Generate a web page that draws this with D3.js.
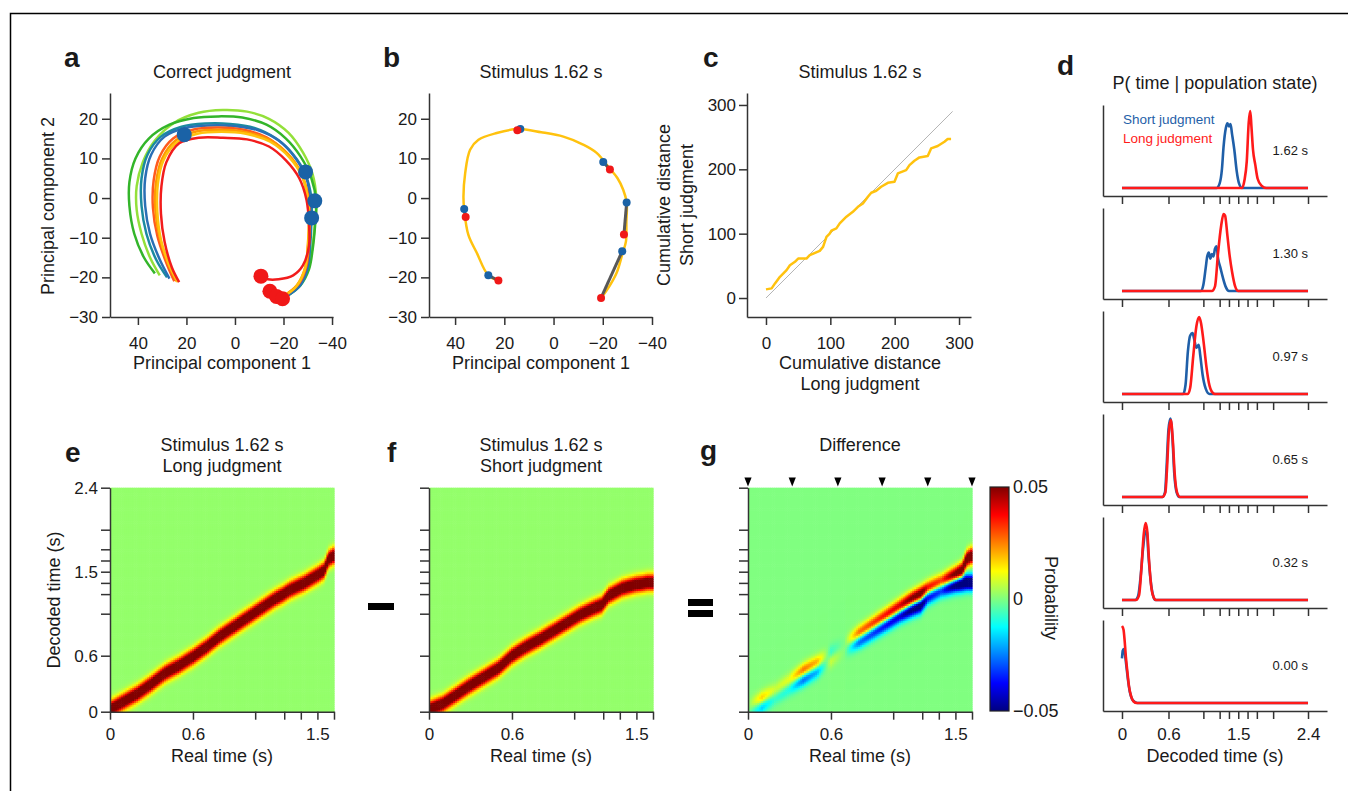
<!DOCTYPE html>
<html>
<head>
<meta charset="utf-8">
<script src="https://cdn.jsdelivr.net/npm/d3@7"></script>
<style>
  body { margin: 0; background: #fff; }
  text { font-family: "Liberation Sans", Arial, Helvetica, sans-serif; fill: #1a1a1a; }
</style>
</head>
<body>
<svg id="fig" width="1348" height="791"></svg>
<script>
// ---------- data ----------

// panel a: population trajectories (PC1, PC2), outermost to innermost
var aLightGreen = [[31,-19.5],[35,-15],[38.5,-9],[40.5,-3],[40.5,3],[38,9],[33,14.5],[25,19],[15,21.5],[5,22.2],[-5,21.8],[-14,20],[-22,16.5],[-28,11.5],[-32,6],[-33.5,0],[-33,-6],[-32,-12],[-30.5,-17],[-27,-21.5],[-21,-24.5]];
var aGreen = [[33,-19],[37.5,-15],[41.5,-9],[43.5,-2],[43.5,4],[41,10],[35.5,15],[27,18.5],[17,20.2],[7,20.6],[-3,20.3],[-13,18.5],[-21,15],[-27,10.5],[-31.5,5],[-33.5,-1],[-33,-7],[-32,-13],[-30.5,-18],[-27,-22],[-22,-24.5]];
var aTeal = [[28,-20],[32.5,-15.5],[36.5,-9],[38.5,-2],[38.5,5],[36,11],[30.5,15.5],[22,18],[12,18.8],[2,18.7],[-8,17.7],[-17,15],[-24,11],[-29,6],[-31.5,0],[-31.5,-6],[-31,-12],[-30,-17.5],[-27,-22],[-22,-24.5]];
var aBlue = [[27,-20.3],[31,-15.5],[35,-9],[37,-2],[37,5],[34.5,11],[29,15.5],[21,17.6],[11,18.3],[1,18.2],[-9,17.2],[-18,14.5],[-25,10],[-29.5,5],[-31,-1],[-31,-7],[-30.5,-13],[-29.5,-18.5],[-26,-22.5],[-21,-24.8]];
var aOrangeRed = [[25,-21],[28.5,-16],[32,-9.5],[33.8,-2.5],[33.5,4.5],[31,10.5],[25.5,15],[17,17.3],[7,17.8],[-3,17.3],[-13,15.3],[-21,11.5],[-27,6.5],[-30,1],[-30.8,-5],[-30.5,-11],[-29.5,-17],[-26.5,-21.5],[-22,-24]];
var aOrange = [[24,-21],[27.5,-16.5],[31,-10],[32.8,-3],[32.5,4],[30,10],[24.5,14.5],[16,16.8],[6,17.2],[-4,16.7],[-14,14.8],[-22,11],[-27.5,6],[-30,0],[-30.5,-6],[-30,-12],[-29,-17.5],[-25.5,-22],[-20.5,-24.5]];
var aGold = [[23.5,-21.2],[27,-17],[30.5,-10.5],[32,-3.5],[31.8,3.5],[29.5,9.5],[24,14],[15.5,16.2],[5.5,16.7],[-4.5,16.2],[-14.5,14.2],[-22.5,10.2],[-28,5],[-30.2,-1],[-30.5,-7],[-30,-13],[-28.5,-18.5],[-25,-22.5],[-19.5,-25]];
var aRed = [[23,-21.2],[26,-17.5],[29,-11],[30.5,-4],[30.3,3],[28.3,9],[23,13.8],[15,15.2],[5,15.2],[-5,14.8],[-14,13],[-21,9.5],[-26.5,5],[-29.5,-0.5],[-30.5,-6.5],[-30.5,-12],[-28,-17],[-24,-19.5],[-18,-20.5],[-13.5,-20.5],[-10.7,-19.7]];
var aBlueDots = [[20.9,16.0],[-29.1,6.6],[-32.9,-0.7],[-31.6,-5.0]];
var aRedDots = [[-10.7,-19.7],[-14.4,-23.5],[-17.1,-24.8],[-19.6,-25.4]];

// panel b: one trajectory, stimulus 1.62 s
var bPath = [[22.4,-20.8],[26.5,-19.5],[31.2,-13.8],[34.6,-9.3],[36.3,-3],[36.6,0.4],[35.9,6.3],[33.9,12.2],[30.5,14.7],[23.1,16.4],[14.7,17.4],[5,16.6],[-4,15.5],[-12,13.5],[-17.5,11.4],[-22.9,7.4],[-26,5],[-28.3,2.1],[-29.7,-1.1],[-29.6,-6],[-29.4,-11],[-28,-14],[-25.6,-18.9],[-21.6,-23.3],[-19.3,-25.2]];
var bBlueDots = [[13.5,17.4],[-20.2,9.1],[-29.7,-1.1],[-27.9,-13.4],[36.3,-2.75],[26.5,-19.5]];
var bRedDots = [[14.7,17.1],[-22.9,7.2],[-28.6,-9.2],[-19.3,-25.2],[35.7,-4.8],[22.4,-20.8]];

// panel c: cumulative distance, long vs short judgment
var cLong = [0,8.8,14,21.7,32,37.2,45,50,62.9,68,83.5,88.7,94,99,101.7,109.4,114.6,125,135,142.9,150.6,158.4,163.6,171.3,179,189.4,199.7,204.9,217.8,223,230.7,238.5,251.4,256.6,266.9,277.3,282.4,287.6];
var cShort = [13.4,15,22.7,33,43.4,51,56.3,61.4,61.4,66.6,73.3,79.5,95,100,104.6,108.2,116,126.4,134,141.8,147,157.4,163.6,166.7,172.9,179,180.6,193.6,198.8,206.6,213.3,218.5,220.6,232.5,236.2,242.9,247,247];
var cDiag = [0, 290];

// panel d: P(time | population state), relative probability vs decoded time (s)
var dLabels = ['1.62 s','1.30 s','0.97 s','0.65 s','0.32 s','0.00 s'];
var d162Short = [[0,0],[1.22,0],[1.26,0.06],[1.29,0.25],[1.31,0.53],[1.34,0.78],[1.36,0.84],[1.38,0.8],[1.4,0.83],[1.42,0.7],[1.45,0.49],[1.48,0.22],[1.51,0.06],[1.55,0],[2.4,0]];
var d162Long = [[0,0],[1.55,0],[1.58,0.1],[1.61,0.35],[1.635,0.85],[1.655,1.0],[1.67,0.8],[1.69,0.5],[1.72,0.3],[1.75,0.12],[1.8,0.03],[1.86,0],[2.4,0]];
var d130Short = [[0,0],[1.02,0],[1.05,0.08],[1.08,0.3],[1.1,0.45],[1.12,0.5],[1.14,0.42],[1.16,0.48],[1.18,0.45],[1.2,0.55],[1.22,0.58],[1.24,0.42],[1.27,0.3],[1.3,0.18],[1.34,0.05],[1.38,0],[2.4,0]];
var d130Long = [[0,0],[1.16,0],[1.2,0.06],[1.24,0.5],[1.28,0.85],[1.31,1.0],[1.33,0.98],[1.36,0.72],[1.39,0.45],[1.42,0.25],[1.46,0.06],[1.5,0],[2.4,0]];
var d097Short = [[0,0],[0.79,0],[0.82,0.12],[0.85,0.55],[0.88,0.76],[0.91,0.79],[0.93,0.72],[0.96,0.6],[0.99,0.64],[1.01,0.5],[1.04,0.25],[1.08,0.07],[1.13,0],[2.4,0]];
var d097Long = [[0,0],[0.85,0],[0.88,0.08],[0.92,0.5],[0.96,0.88],[0.995,1.0],[1.02,0.92],[1.05,0.7],[1.09,0.35],[1.12,0.15],[1.16,0.03],[1.2,0],[2.4,0]];
var d065Short = [[0,0],[0.52,0],[0.555,0.06],[0.575,0.38],[0.6,0.88],[0.625,1.02],[0.65,0.78],[0.675,0.3],[0.705,0.06],[0.74,0],[2.4,0]];
var d065Long = [[0,0],[0.52,0],[0.56,0.06],[0.58,0.35],[0.605,0.85],[0.63,1.0],[0.655,0.75],[0.68,0.3],[0.71,0.06],[0.75,0],[2.4,0]];
var d032Short = [[0,0],[0.17,0],[0.21,0.06],[0.24,0.3],[0.27,0.65],[0.3,0.88],[0.32,0.9],[0.34,0.6],[0.37,0.25],[0.4,0.06],[0.43,0],[2.4,0]];
var d032Long = [[0,0],[0.18,0],[0.22,0.06],[0.25,0.4],[0.28,0.85],[0.305,1.0],[0.325,0.9],[0.35,0.5],[0.38,0.15],[0.41,0.03],[0.44,0],[2.4,0]];
var d000Short = [[0,0.58],[0.01,0.68],[0.025,0.7],[0.04,0.62],[0.06,0.45],[0.08,0.28],[0.1,0.15],[0.13,0.05],[0.17,0.01],[0.2,0],[2.4,0]];
var d000Long = [[0,1.0],[0.02,0.95],[0.035,0.8],[0.05,0.6],[0.07,0.4],[0.09,0.22],[0.12,0.08],[0.15,0.02],[0.19,0],[2.4,0]];

// ticks shared by d-g (stimulus set + boundary)
var timeTicks = [0, 0.6, 1.05, 1.26, 1.38, 1.5, 1.62, 1.74, 1.95, 2.4];
var realTicks = [0, 0.6, 1.05, 1.26, 1.38, 1.5, 1.62];
var timeTickLabels = [0, 0.6, 1.5, 2.4];
var markerTimes = [0, 0.32, 0.65, 0.97, 1.30, 1.62];

// panels e-g: decoded-time ridge (centre of posterior) per real time
var hmReal = [0,0.1,0.2,0.3,0.4,0.5,0.6,0.7,0.8,0.9,1.0,1.1,1.2,1.25,1.3,1.4,1.5,1.55,1.58,1.62];
var ridgeLong = [0.03,0.115,0.2,0.305,0.42,0.5,0.595,0.7,0.82,0.92,1.02,1.12,1.22,1.26,1.31,1.38,1.47,1.52,1.64,1.68];
var ridgeShort = [0.03,0.09,0.19,0.29,0.38,0.47,0.605,0.7,0.78,0.87,0.96,1.05,1.12,1.15,1.25,1.33,1.37,1.38,1.39,1.39];
var bandPeak = 0.065, bandSigma = 0.058, floorProb = 0.002;
var cbTicks = [-0.05, 0, 0.05];

// ---------- drawing ----------
var FONT = '"Liberation Sans", Arial, Helvetica, sans-serif';
var svg = d3.select('#fig');

// page frame
svg.append('path').attr('d', 'M10.5,791V13.5H1348')
  .attr('fill', 'none').attr('stroke', '#000').attr('stroke-width', 1.5);

function label(x, y, s, fs, anchor, extra) {
  var t = svg.append('text').attr('x', x).attr('y', y).text(s)
    .attr('font-size', fs).attr('text-anchor', anchor || 'middle');
  if (extra) extra(t);
  return t;
}
function rotLabel(x, y, s, fs, angle) {
  return svg.append('text').attr('transform', 'translate(' + x + ',' + y + ') rotate(' + angle + ')')
    .attr('text-anchor', 'middle').attr('font-size', fs).text(s);
}
function letter(x, y, s) {
  return label(x, y, s, 28, 'start', function(t){ t.attr('font-weight', 'bold'); });
}
function styleAxis(g, fs) {
  g.attr('font-family', FONT).attr('font-size', fs);
  g.selectAll('text').attr('fill', '#1a1a1a');
  g.select('.domain').attr('stroke', '#333').attr('stroke-width', 1.5);
  g.selectAll('.tick line').attr('stroke', '#333').attr('stroke-width', 1.5);
  return g;
}
var fmtTime = function(d){ return timeTickLabels.indexOf(d) >= 0 ? String(d) : ''; };

// ===== panel a =====
var ax = d3.scaleLinear().domain([51.5, -40.4]).range([110, 333]);
var ay = d3.scaleLinear().domain([-30, 26.5]).range([317, 93]);
styleAxis(svg.append('g').attr('transform', 'translate(0,317)')
  .call(d3.axisBottom(ax).tickValues([40,20,0,-20,-40]).tickSize(8).tickSizeOuter(0).tickPadding(12)), 17);
styleAxis(svg.append('g').attr('transform', 'translate(110,0)')
  .call(d3.axisLeft(ay).tickValues([20,10,0,-10,-20,-30]).tickSize(8).tickSizeOuter(0).tickPadding(4)), 17);

var aTraj = [
  {pts: aLightGreen, color: '#93e03a'},
  {pts: aGreen, color: '#33b52a'},
  {pts: aTeal, color: '#1b8aa0'},
  {pts: aBlue, color: '#2a6fb5'},
  {pts: aOrangeRed, color: '#ff5a1e'},
  {pts: aOrange, color: '#ff9800'},
  {pts: aGold, color: '#ffc20e'},
  {pts: aRed, color: '#f21c1c'}
];
var aLine = d3.line().x(function(d){return ax(d[0]);}).y(function(d){return ay(d[1]);}).curve(d3.curveCatmullRom.alpha(0.5));
svg.append('g').selectAll('path').data(aTraj).join('path')
  .attr('d', function(d){return aLine(d.pts);})
  .attr('fill', 'none').attr('stroke', function(d){return d.color;}).attr('stroke-width', 2.5);
svg.append('g').selectAll('circle').data(aBlueDots).join('circle')
  .attr('cx', function(d){return ax(d[0]);}).attr('cy', function(d){return ay(d[1]);})
  .attr('r', 7.5).attr('fill', '#1a62a6');
svg.append('g').selectAll('circle').data(aRedDots).join('circle')
  .attr('cx', function(d){return ax(d[0]);}).attr('cy', function(d){return ay(d[1]);})
  .attr('r', 7.5).attr('fill', '#f01818');

letter(64, 67, 'a');
label(222, 78, 'Correct judgment', 18);
label(222, 369, 'Principal component 1', 18);
rotLabel(54, 206, 'Principal component 2', 18, -90);

// ===== panel b =====
var bx = d3.scaleLinear().domain([50.6, -40]).range([429, 652]);
var by = ay;
styleAxis(svg.append('g').attr('transform', 'translate(0,317)')
  .call(d3.axisBottom(bx).tickValues([40,20,0,-20,-40]).tickSize(8).tickSizeOuter(0).tickPadding(12)), 17);
styleAxis(svg.append('g').attr('transform', 'translate(429,0)')
  .call(d3.axisLeft(by).tickValues([20,10,0,-10,-20,-30]).tickSize(8).tickSizeOuter(0).tickPadding(4)), 17);
var bLine = d3.line().x(function(d){return bx(d[0]);}).y(function(d){return by(d[1]);}).curve(d3.curveCatmullRom.alpha(0.5));
svg.append('path').attr('d', bLine(bPath)).attr('fill', 'none').attr('stroke', '#ffc20e').attr('stroke-width', 2.5);
svg.append('g').selectAll('line').data(d3.zip(bBlueDots, bRedDots)).join('line')
  .attr('x1', function(d){return bx(d[0][0]);}).attr('y1', function(d){return by(d[0][1]);})
  .attr('x2', function(d){return bx(d[1][0]);}).attr('y2', function(d){return by(d[1][1]);})
  .attr('stroke', '#585858').attr('stroke-width', 3);
svg.append('g').selectAll('circle').data(bBlueDots).join('circle')
  .attr('cx', function(d){return bx(d[0]);}).attr('cy', function(d){return by(d[1]);})
  .attr('r', 4).attr('fill', '#1a62a6');
svg.append('g').selectAll('circle').data(bRedDots).join('circle')
  .attr('cx', function(d){return bx(d[0]);}).attr('cy', function(d){return by(d[1]);})
  .attr('r', 4).attr('fill', '#f01818');

letter(383, 67, 'b');
label(541, 78, 'Stimulus 1.62 s', 18);
label(541, 369, 'Principal component 1', 18);

// ===== panel c =====
var cx = d3.scaleLinear().domain([-29.5, 318.6]).range([747, 971]);
var cy = d3.scaleLinear().domain([-29.5, 318.6]).range([317, 93]);
styleAxis(svg.append('g').attr('transform', 'translate(0,317)')
  .call(d3.axisBottom(cx).tickValues([0,100,200,300]).tickSize(8).tickSizeOuter(0).tickPadding(12)), 17);
styleAxis(svg.append('g').attr('transform', 'translate(747,0)')
  .call(d3.axisLeft(cy).tickValues([0,100,200,300]).tickSize(8).tickSizeOuter(0).tickPadding(3)), 17);
svg.append('line').attr('x1', cx(cDiag[0])).attr('y1', cy(cDiag[0]))
  .attr('x2', cx(cDiag[1])).attr('y2', cy(cDiag[1]))
  .attr('stroke', '#b5b5b5').attr('stroke-width', 1);
var cLine = d3.line().x(function(d){return cx(d[0]);}).y(function(d){return cy(d[1]);});
svg.append('path').attr('d', cLine(d3.zip(cLong, cShort)))
  .attr('fill', 'none').attr('stroke', '#ffc20e').attr('stroke-width', 2.5).attr('stroke-linejoin', 'round');

letter(703, 67, 'c');
label(860, 78, 'Stimulus 1.62 s', 18);
label(860, 369, 'Cumulative distance', 18);
label(860, 390, 'Long judgment', 18);
rotLabel(670, 205, 'Cumulative distance', 18, -90);
rotLabel(693, 205, 'Short judgment', 18, -90);

// ===== panel d =====
var dPanels = [
  {short: d162Short, long: d162Long},
  {short: d130Short, long: d130Long},
  {short: d097Short, long: d097Long},
  {short: d065Short, long: d065Long},
  {short: d032Short, long: d032Long},
  {short: d000Short, long: d000Long}
];
var dx = d3.scaleLinear().domain([-0.245, 2.645]).range([1103, 1327]);
dPanels.forEach(function(p, i) {
  var top = 105 + i * 103, bottom = top + 91;
  var dy = d3.scaleLinear().domain([-0.104, 1.078]).range([bottom, top]);
  styleAxis(svg.append('g').attr('transform', 'translate(1103,0)')
    .call(d3.axisLeft(dy).tickValues([]).tickSizeOuter(0)), 17);
  styleAxis(svg.append('g').attr('transform', 'translate(0,' + bottom + ')')
    .call(d3.axisBottom(dx).tickValues(timeTicks).tickSize(8).tickSizeOuter(0).tickPadding(9)
      .tickFormat(i === 5 ? fmtTime : function(){ return ''; })), 17);
  var ln = d3.line().x(function(d){return dx(d[0]);}).y(function(d){return dy(d[1]);}).curve(d3.curveMonotoneX);
  svg.append('path').attr('d', ln(p.short)).attr('fill', 'none').attr('stroke', '#1f5fa8').attr('stroke-width', 2.6);
  svg.append('path').attr('d', ln(p.long)).attr('fill', 'none').attr('stroke', '#ff1a1a').attr('stroke-width', 2.6);
  label(1308, top + 50, dLabels[i], 13, 'end');
});
label(1123, 124, 'Short judgment', 13.5, 'start', function(t){ t.style('fill', '#1f5fa8'); });
label(1123, 143, 'Long judgment', 13.5, 'start', function(t){ t.style('fill', '#ff1a1a'); });
letter(1057, 75, 'd');
label(1215, 89, 'P( time | population state)', 18);
label(1215, 762, 'Decoded time (s)', 18);

// ===== panels e, f, g (heatmaps) =====
var jet = d3.scaleLinear()
  .domain([-0.05, -0.0375, -0.0125, 0.0125, 0.0375, 0.05])
  .range(['#000080', '#0000ff', '#00ffff', '#ffff00', '#ff0000', '#800000'])
  .interpolate(d3.interpolateRgb).clamp(true);

var nReal = 120, nDec = 120, realStep = 1.62 / nReal, decStep = 2.4 / nDec;
var ridgeL = d3.scaleLinear().domain(hmReal).range(ridgeLong);
var ridgeS = d3.scaleLinear().domain(hmReal).range(ridgeShort);
var cells = [];
d3.range(nReal).forEach(function(i) {
  var t = (i + 0.5) * realStep, cL = ridgeL(t), cS = ridgeS(t);
  d3.range(nDec).forEach(function(j) {
    var dd = (j + 0.5) * decStep;
    var pl = floorProb + bandPeak * Math.exp(-Math.pow(dd - cL, 2) / (2 * bandSigma * bandSigma));
    var ps = floorProb + bandPeak * Math.exp(-Math.pow(dd - cS, 2) / (2 * bandSigma * bandSigma));
    cells.push({t: i * realStep, d: j * decStep, long: pl, short: ps});
  });
});

var hy = d3.scaleLinear().domain([0, 2.4]).range([711.7, 487.7]);
function heatmap(x0, valueOf, yLabels) {
  var hx = d3.scaleLinear().domain([0, 1.62]).range([x0, x0 + 224]);
  var cw = hx(realStep) - hx(0) + 0.6, ch = hy(0) - hy(decStep) + 0.6;
  svg.append('g').selectAll('rect').data(cells).join('rect')
    .attr('x', function(d){return hx(d.t);}).attr('y', function(d){return hy(d.d + decStep);})
    .attr('width', cw).attr('height', ch)
    .attr('fill', function(d){return jet(valueOf(d));});
  styleAxis(svg.append('g').attr('transform', 'translate(0,711.7)')
    .call(d3.axisBottom(hx).tickValues(realTicks).tickSize(8).tickSizeOuter(0).tickPadding(8).tickFormat(fmtTime)), 17);
  styleAxis(svg.append('g').attr('transform', 'translate(' + x0 + ',0)')
    .call(d3.axisLeft(hy).tickValues(timeTicks).tickSize(9).tickSizeOuter(0).tickPadding(3)
      .tickFormat(yLabels ? fmtTime : function(){ return ''; })), 17);
  label(x0 + 112, 762, 'Real time (s)', 18);
  return hx;
}

// e
heatmap(110, function(d){ return d.long; }, true);
letter(65, 462, 'e');
label(222, 451, 'Stimulus 1.62 s', 18);
label(222, 472, 'Long judgment', 18);
rotLabel(60, 600, 'Decoded time (s)', 18, -90);

// f
heatmap(429, function(d){ return d.short; }, false);
letter(387, 462, 'f');
label(541, 451, 'Stimulus 1.62 s', 18);
label(541, 472, 'Short judgment', 18);
svg.append('rect').attr('x', 368).attr('y', 603).attr('width', 26).attr('height', 7).attr('fill', '#000');

// g
var gx = heatmap(748, function(d){ return d.long - d.short; }, false);
letter(700, 460, 'g');
label(860, 451, 'Difference', 18);
svg.append('rect').attr('x', 688).attr('y', 599).attr('width', 25).attr('height', 7).attr('fill', '#000');
svg.append('rect').attr('x', 688).attr('y', 610).attr('width', 25).attr('height', 7).attr('fill', '#000');
svg.append('g').selectAll('path').data(markerTimes).join('path')
  .attr('transform', function(d){ return 'translate(' + gx(d) + ',482)'; })
  .attr('d', 'M-3.6,-4.5L3.6,-4.5L0,4.5Z').attr('fill', '#000');

// colorbar
var cbScale = d3.scaleLinear().domain([-0.05, 0.05]).range([711, 487]);
var grad = svg.append('defs').append('linearGradient').attr('id', 'cbgrad')
  .attr('x1', 0).attr('y1', 1).attr('x2', 0).attr('y2', 0);
grad.selectAll('stop').data(jet.domain()).join('stop')
  .attr('offset', function(d){ return (d + 0.05) / 0.1; })
  .attr('stop-color', function(d){ return jet(d); });
svg.append('rect').attr('x', 990).attr('y', 487).attr('width', 19).attr('height', 224)
  .attr('fill', 'url(#cbgrad)').attr('stroke', '#222').attr('stroke-width', 1.2);
var cbAxis = svg.append('g').attr('transform', 'translate(1009,0)')
  .call(d3.axisRight(cbScale).tickValues(cbTicks).tickSize(0).tickPadding(4)
    .tickFormat(function(d){ return d === 0 ? '0' : d3.format('.2f')(d); }));
styleAxis(cbAxis, 18);
cbAxis.select('.domain').remove();
rotLabel(1045, 598, 'Probability', 18, 90);
</script>
</body>
</html>
